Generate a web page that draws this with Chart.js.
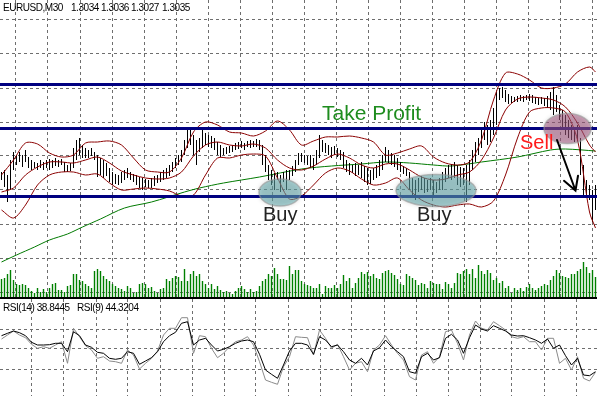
<!DOCTYPE html>
<html><head><meta charset="utf-8">
<script src="https://cdn.jsdelivr.net/npm/chart.js@4.4.1/dist/chart.umd.min.js"></script>
<style>
body{margin:0;background:#fff;}
#wrap{position:relative;width:597px;height:396px;overflow:hidden;background:#fff;}
canvas{position:absolute;left:0;}
.t{position:absolute;font-family:"Liberation Sans",Arial,sans-serif;white-space:nowrap;line-height:1;z-index:5;}
.s{font-size:10px;letter-spacing:-0.45px;color:#000;}
.big{font-size:20px;}
</style></head><body>
<div id="wrap">
<canvas id="main" width="597" height="297" style="top:0"></canvas>
<div style="position:absolute;left:0;top:297px;width:597px;height:2px;background:#000"></div>
<canvas id="rsi" width="597" height="97" style="top:299px"></canvas>
<div class="t s" style="left:3px;top:3px">EURUSD,M30</div>
<div class="t s" style="left:71px;top:3px">1.3034</div>
<div class="t s" style="left:101px;top:3px">1.3036</div>
<div class="t s" style="left:131px;top:3px">1.3027</div>
<div class="t s" style="left:162px;top:3px">1.3035</div>
<div class="t s" style="left:3px;top:303px">RSI(14) 38.8445</div>
<div class="t s" style="left:77px;top:303px">RSI(9) 44.3204</div>
<div class="t" style="left:322px;top:102px;font-size:21px;color:#1e8c1e">Take Profit</div>
<div class="t big" style="left:263px;top:204px;color:#222">Buy</div>
<div class="t big" style="left:417px;top:204px;color:#222">Buy</div>
<div class="t big" style="left:520px;top:132px;color:#ff1a1a">Sell</div>
</div>
<script>
// ---- price bars (M30), one entry per bar ----
const highs = [
1.3049,1.3050,1.30475,1.3055,1.3059,1.30575,1.3059,1.30575,1.3060,1.30565,
1.3055,1.3054,1.30535,1.3055,1.3054,1.3055,1.30555,1.3055,1.3056,1.3055,
1.30555,1.3054,1.30525,1.30535,1.3061,1.3065,1.3066,1.30625,1.3061,1.3060,
1.3061,1.3059,1.30575,1.3056,1.3055,1.30535,1.3051,1.3049,1.3048,1.30475,
1.3049,1.3050,1.3051,1.3049,1.3048,1.30475,1.30465,1.3046,1.30455,1.3045,
1.3046,1.3047,1.30475,1.3049,1.3050,1.3051,1.30525,1.3054,1.3056,1.30575,
1.3060,1.3065,1.3070,1.3070,1.30675,1.3065,1.3066,1.3070,1.30685,1.30675,
1.3067,1.3066,1.3064,1.30625,1.3061,1.30615,1.3062,1.30625,1.30635,1.3064,
1.30645,1.30635,1.30645,1.3065,1.30645,1.30655,1.3065,1.30625,1.30575,1.30525,
1.3050,1.30485,1.3049,1.30475,1.3049,1.3050,1.3050,1.3052,1.3055,1.30585,
1.30585,1.30575,1.3057,1.30575,1.3056,1.3060,1.30675,1.3065,1.30635,1.30625,
1.30615,1.3062,1.3061,1.3060,1.3059,1.3055,1.30535,1.30525,1.30535,1.30525,
1.3054,1.3052,1.3051,1.3050,1.3051,1.30525,1.3055,1.30575,1.30615,1.3060,
1.30585,1.30575,1.3056,1.3054,1.3052,1.3051,1.3049,1.3046,1.3045,1.3046,
1.3047,1.3046,1.3045,1.3046,1.3045,1.3044,1.3046,1.3049,1.3051,1.30525,
1.3053,1.3054,1.30525,1.30515,1.3051,1.30525,1.3055,1.3060,1.3064,1.3066,
1.3071,1.3074,1.30725,1.3075,1.3081,1.3089,1.3091,1.30915,1.3090,1.3088,
1.3087,1.30865,1.3087,1.30875,1.3087,1.30875,1.3088,1.30875,1.30865,1.3086,
1.30865,1.3086,1.3087,1.3089,1.30915,1.30875,1.30825,1.3080,1.30775,1.3075,
1.30725,1.3070,1.30725,1.3066,1.30525,1.3045,1.30425,1.3040,1.30425];
const lows = [
1.3045,1.30415,1.3034,1.3040,1.3050,1.30525,1.3054,1.30515,1.3054,1.3051,
1.3050,1.3051,1.3050,1.3051,1.3050,1.3051,1.3050,1.3051,1.3052,1.30515,
1.30525,1.3049,1.3049,1.30495,1.3051,1.3055,1.30575,1.3056,1.3056,1.3056,
1.3057,1.3055,1.30465,1.30475,1.3046,1.3047,1.3044,1.30425,1.3043,1.30425,
1.30435,1.3045,1.3046,1.3045,1.3044,1.30425,1.3041,1.3040,1.30415,1.3041,
1.3041,1.3042,1.30435,1.3044,1.3045,1.3046,1.3047,1.3049,1.3051,1.30525,
1.3054,1.30575,1.3061,1.30625,1.30575,1.30525,1.3059,1.3061,1.30625,1.30615,
1.3061,1.3060,1.30575,1.30565,1.30575,1.3058,1.30585,1.3059,1.3060,1.30605,
1.3061,1.3060,1.30615,1.3061,1.30615,1.30615,1.3060,1.30525,1.3049,1.3045,
1.30425,1.3040,1.3045,1.3039,1.3044,1.3040,1.3045,1.3047,1.3049,1.30525,
1.3054,1.30535,1.30525,1.3051,1.3050,1.30525,1.3056,1.3059,1.30585,1.30575,
1.3056,1.30575,1.30565,1.3055,1.3051,1.3049,1.30475,1.30485,1.3047,1.30475,
1.3046,1.3044,1.30425,1.3043,1.3045,1.3046,1.3047,1.3050,1.3054,1.30535,
1.30525,1.30515,1.3050,1.3049,1.3048,1.3047,1.3040,1.30375,1.3035,1.3039,
1.3040,1.30385,1.3039,1.3040,1.30375,1.30385,1.3040,1.3040,1.3044,1.3046,
1.3045,1.3046,1.30425,1.30415,1.30425,1.3034,1.30425,1.3050,1.3054,1.30575,
1.3061,1.3065,1.30625,1.3064,1.30675,1.30725,1.3085,1.3086,1.3084,1.3083,
1.30835,1.3084,1.3084,1.30845,1.3084,1.3085,1.30845,1.30835,1.3083,1.30825,
1.3083,1.3082,1.3081,1.3080,1.30775,1.3079,1.3075,1.3071,1.30675,1.3066,
1.3065,1.3064,1.3064,1.30475,1.30375,1.3036,1.3035,1.3024,1.3030];

// ---- Bollinger bands, sampled every 4 bars ----
const bandIdx = [0,4,8,12,16,20,24,28,32,36,40,44,48,52,56,60,64,68,72,76,80,84,88,92,96,100,104,108,112,116,120,124,128,132,136,140,144,148,152,156,160,164,168,172,176,180,184,188,192,196,198];
const bbUpper = [
1.30475,1.3055,1.30635,1.3063,1.30585,1.30565,1.30575,1.30635,1.3064,1.30645,
1.30625,1.3056,1.3050,1.3049,1.3049,1.3056,1.3069,1.3074,1.30725,1.3069,
1.30685,1.3067,1.30695,1.30745,1.3070,1.30625,1.30645,1.30665,1.30665,1.3067,
1.3066,1.3064,1.30575,1.30585,1.30605,1.3062,1.30565,1.30535,1.30525,1.3054,
1.3065,1.3085,1.30985,1.3098,1.3095,1.3091,1.3091,1.3093,1.3099,1.31015,1.3099];
const bbMiddle = [
1.3039,1.3041,1.30475,1.30515,1.3054,1.3054,1.30535,1.3055,1.30565,1.30535,
1.30495,1.30475,1.3046,1.30455,1.3046,1.3049,1.3057,1.30625,1.3064,1.30625,
1.3062,1.3063,1.3061,1.3055,1.3051,1.3050,1.3052,1.30555,1.3058,1.3056,
1.30525,1.3051,1.3053,1.3053,1.3050,1.30465,1.3045,1.30455,1.30475,1.3049,
1.3055,1.3066,1.3080,1.30855,1.30865,1.3086,1.3085,1.30815,1.30735,1.30625,1.3059];
const bbLower = [
1.3030,1.3026,1.30325,1.30425,1.30475,1.3049,1.3049,1.30475,1.3048,1.30435,
1.3040,1.30405,1.3041,1.30405,1.30395,1.3037,1.30375,1.30475,1.3056,1.3056,
1.30575,1.3058,1.3057,1.3046,1.30355,1.3037,1.30425,1.30485,1.3051,1.30495,
1.30455,1.30425,1.30435,1.3046,1.3040,1.3035,1.30325,1.30315,1.30325,1.3033,
1.30315,1.30345,1.30475,1.3066,1.3079,1.3081,1.3081,1.3079,1.3065,1.3029,1.3021];

// ---- long moving average (green) ----
const maIdx = [0,5,11,16,22,27,33,41,50,61,66,74,86,100,110,120,128,136,144,150,160,172,183,188,198];
const maValues = [1.3004,1.30075,1.30115,1.3015,1.3018,1.30215,1.30255,1.3031,1.3034,1.3039,1.3041,1.30435,1.30465,1.30505,1.3052,1.3053,1.3054,1.30535,1.30525,1.3052,1.3054,1.30565,1.3060,1.30605,1.30595];

// ---- tick volume, one per bar ----
const volume = [
18,19,23,27,17,13,12,13,12,9, 6,4,9,5,8,5,9,13,14,7,
7,5,11,12,23,23,17,16,13,11, 9,26,28,26,21,18,16,13,11,9,
8,6,11,9,4,5,13,14,13,9, 10,6,4,8,9,18,16,19,21,20,
16,28,16,23,26,21,23,16,13,9, 13,8,11,7,5,6,4,3,6,9,
11,8,5,8,5,6,11,16,18,23, 21,29,23,18,18,17,31,23,27,27,
16,13,12,11,9,9,13,3,11,9, 9,12,9,13,22,16,19,9,14,19,
25,23,25,21,23,19,18,24,26,27, 24,22,18,13,12,23,21,19,17,12,
14,13,9,16,14,13,13,8,15,13, 9,14,24,23,26,28,23,28,19,32,
26,23,27,24,17,19,14,16,9,11, 4,9,7,9,6,10,13,9,7,9,
11,13,12,17,21,27,24,21,20,19, 23,23,26,28,35,30,24,27,20];

// ---- horizontal levels (support / take profit / resistance) ----
const levels = [1.309275, 1.307075, 1.303675];
const priceGrid = [1.3125,1.3108,1.3091,1.3074,1.3057,1.3040,1.3023,1.3006,1.2989];

// ---- RSI, sampled every 2 bars ----
const rsiIdx = Array.from({length:100},(_,k)=>2*k);
const rsi14 = [
63.3,65.7,68,66.3,63.3,56.7,54,54,54.3,55.7, 55.7,47.3,67.3,63.3,54,51.7,46.7,45.7,40.7,39.7,
40.7,47.3,45.7,34.7,38,41.3,47.3,57.3,63.3,66.7, 75.7,77.3,54,59,60.7,54,48,49.7,52.3,55.7,
58,59,57.3,44.7,29,24.7,20.7,34,48,55.7, 55.7,54,44.7,62.3,59,52.3,54,47.3,39,35.7,
40.7,34,48,51.3,59,52.3,47.3,42.3,27.3,25.7, 42.3,45.7,39,41.3,60.7,64.7,59,45.7,61.3,74,
70,68,73.3,70.7,68,64,63,63.3,61.3,59, 55.7,60,50.7,54,43.3,34,40.7,24,23.3,27.3];
const rsi9 = [
60,64,68,64,61.3,54.7,50.7,52.3,50.7,54, 57.3,35.7,70.7,62.3,53.3,49,40.7,42.3,38,37.3,
35.7,49,44,30,35.7,40.7,48,64,70.7,70.7, 81.3,81.3,45.7,63.3,62.3,50.7,41.3,45.7,52.3,57.3,
59,62.3,54,37.3,19,16.7,14.7,32.3,42.3,62.3, 61.7,61.3,44,69,60.7,50.7,54.7,42.3,29,35.7,
37.3,27.3,49,54,63.3,54,45.7,39,22.3,19, 44,47.3,35.7,42.3,67.3,69,55.7,39,64,78,
70.7,69,77.3,73.3,69,62.3,60.7,62.3,57.3,57.3, 49,60.7,60.7,35.7,40.7,29,42.3,20.7,18,26.7];
const rsiGrid = [70,50,30];

// ---- drawn annotations (chart coordinates) ----
const ellipses = [
  {x:92.83, y:1.303875, rx:21, ry:13.5, fill:'rgba(95,175,180,0.5)'},
  {x:144.83, y:1.303975, rx:40, ry:16, fill:'rgba(95,175,180,0.5)'},
  {x:188.67, y:1.307075, rx:23.5, ry:15, fill:'rgba(170,85,130,0.5)'}
];
const arrow = {from:{x:185.17,y:1.3065}, to:{x:191.33,y:1.303975}};

// ----------------------------------------------------------
const gridX = Array.from({length:18},(_,k)=>(k+1)*32/3-0.5);
const XMIN=-0.5, XMAX=198.5;
const gridCol='#6e6e6e';

const annotPlugin = {
  id:'annot',
  afterDatasetsDraw(chart){
    const ctx=chart.ctx, sx=chart.scales.x, sy=chart.scales.y;
    ellipses.forEach(e=>{
      const cx=sx.getPixelForValue(e.x), cy=sy.getPixelForValue(e.y);
      ctx.save();
      ctx.shadowColor='rgba(60,60,60,0.5)'; ctx.shadowBlur=4;
      ctx.beginPath(); ctx.ellipse(cx,cy,e.rx,e.ry,0,0,Math.PI*2);
      ctx.fillStyle=e.fill; ctx.fill();
      ctx.shadowBlur=0;
      ctx.lineWidth=1.5; ctx.strokeStyle='rgba(150,150,150,0.6)'; ctx.stroke();
      ctx.restore();
    });
    const x1=sx.getPixelForValue(arrow.from.x), y1=sy.getPixelForValue(arrow.from.y);
    const x2=sx.getPixelForValue(arrow.to.x), y2=sy.getPixelForValue(arrow.to.y);
    const a=Math.atan2(y2-y1,x2-x1), L=15, w=0.52;
    ctx.save();
    ctx.strokeStyle='#000'; ctx.lineWidth=2; ctx.lineCap='round';
    ctx.beginPath(); ctx.moveTo(x1,y1); ctx.lineTo(x2,y2);
    ctx.moveTo(x2-L*Math.cos(a-w), y2-L*Math.sin(a-w)); ctx.lineTo(x2,y2);
    ctx.lineTo(x2-L*Math.cos(a+w), y2-L*Math.sin(a+w));
    ctx.stroke();
    ctx.restore();
  }
};

const xScale = {
  type:'linear', min:XMIN, max:XMAX, offset:false,
  ticks:{display:false}, grid:{color:gridCol, lineWidth:1, drawTicks:false, tickLength:0},
  border:{display:false, dash:[3,3]},
  afterBuildTicks: ax=>{ ax.ticks = gridX.map(v=>({value:v})); }
};
const base = {
  responsive:false, animation:false, devicePixelRatio:1, events:[],
  layout:{padding:0},
  plugins:{legend:{display:false}, tooltip:{enabled:false}}
};

const pts = (xs,ys)=>xs.map((x,k)=>({x, y:ys[k]}));

new Chart(document.getElementById('main'), {
  type:'bar',
  data:{datasets:[
    ...levels.map(l=>({type:'line', data:[{x:XMIN,y:l},{x:XMAX,y:l}], borderColor:'#000080', borderWidth:3, pointRadius:0, yAxisID:'y', order:1})),
    {type:'line', data:pts(bandIdx,bbUpper), borderColor:'#8b0000', borderWidth:1, pointRadius:0, tension:0.3, yAxisID:'y', order:2},
    {type:'line', data:pts(bandIdx,bbMiddle), borderColor:'#8b0000', borderWidth:1, pointRadius:0, tension:0.3, yAxisID:'y', order:2},
    {type:'line', data:pts(bandIdx,bbLower), borderColor:'#8b0000', borderWidth:1, pointRadius:0, tension:0.3, yAxisID:'y', order:2},
    {type:'bar', data:highs.map((h,i)=>({x:i, y:[lows[i],h]})), backgroundColor:'#000', borderWidth:0, barThickness:1, inflateAmount:0, grouped:false, yAxisID:'y', order:3},
    {type:'line', data:pts(maIdx,maValues), borderColor:'#007a00', borderWidth:1, pointRadius:0, tension:0.3, yAxisID:'y', order:4},
    {type:'bar', data:volume.map((v,i)=>({x:i, y:v})), backgroundColor:'#008000', borderWidth:0, barThickness:1.4, inflateAmount:0, grouped:false, yAxisID:'yv', order:5}
  ]},
  options:{...base,
    scales:{
      x:xScale,
      y:{type:'linear', min:1.29865, max:1.3135, ticks:{display:false},
         grid:{color:gridCol, lineWidth:1, drawTicks:false, tickLength:0}, border:{display:false, dash:[3,3]},
         afterBuildTicks: ax=>{ ax.ticks = priceGrid.map(v=>({value:v})); }},
      yv:{type:'linear', min:0, max:297, display:false}
    }
  },
  plugins:[annotPlugin]
});

new Chart(document.getElementById('rsi'), {
  type:'line',
  data:{datasets:[
    {data:pts(rsiIdx,rsi14), borderColor:'#000', borderWidth:1, pointRadius:0, order:1},
    {data:pts(rsiIdx,rsi9), borderColor:'#8a8a8a', borderWidth:1, pointRadius:0, order:2}
  ]},
  options:{...base,
    scales:{
      x:xScale,
      y:{type:'linear', min:3, max:100, ticks:{display:false},
         grid:{color:gridCol, lineWidth:1, drawTicks:false, tickLength:0}, border:{display:false, dash:[3,3]},
         afterBuildTicks: ax=>{ ax.ticks = rsiGrid.map(v=>({value:v})); }}
    }
  }
});
</script>
</body></html>
